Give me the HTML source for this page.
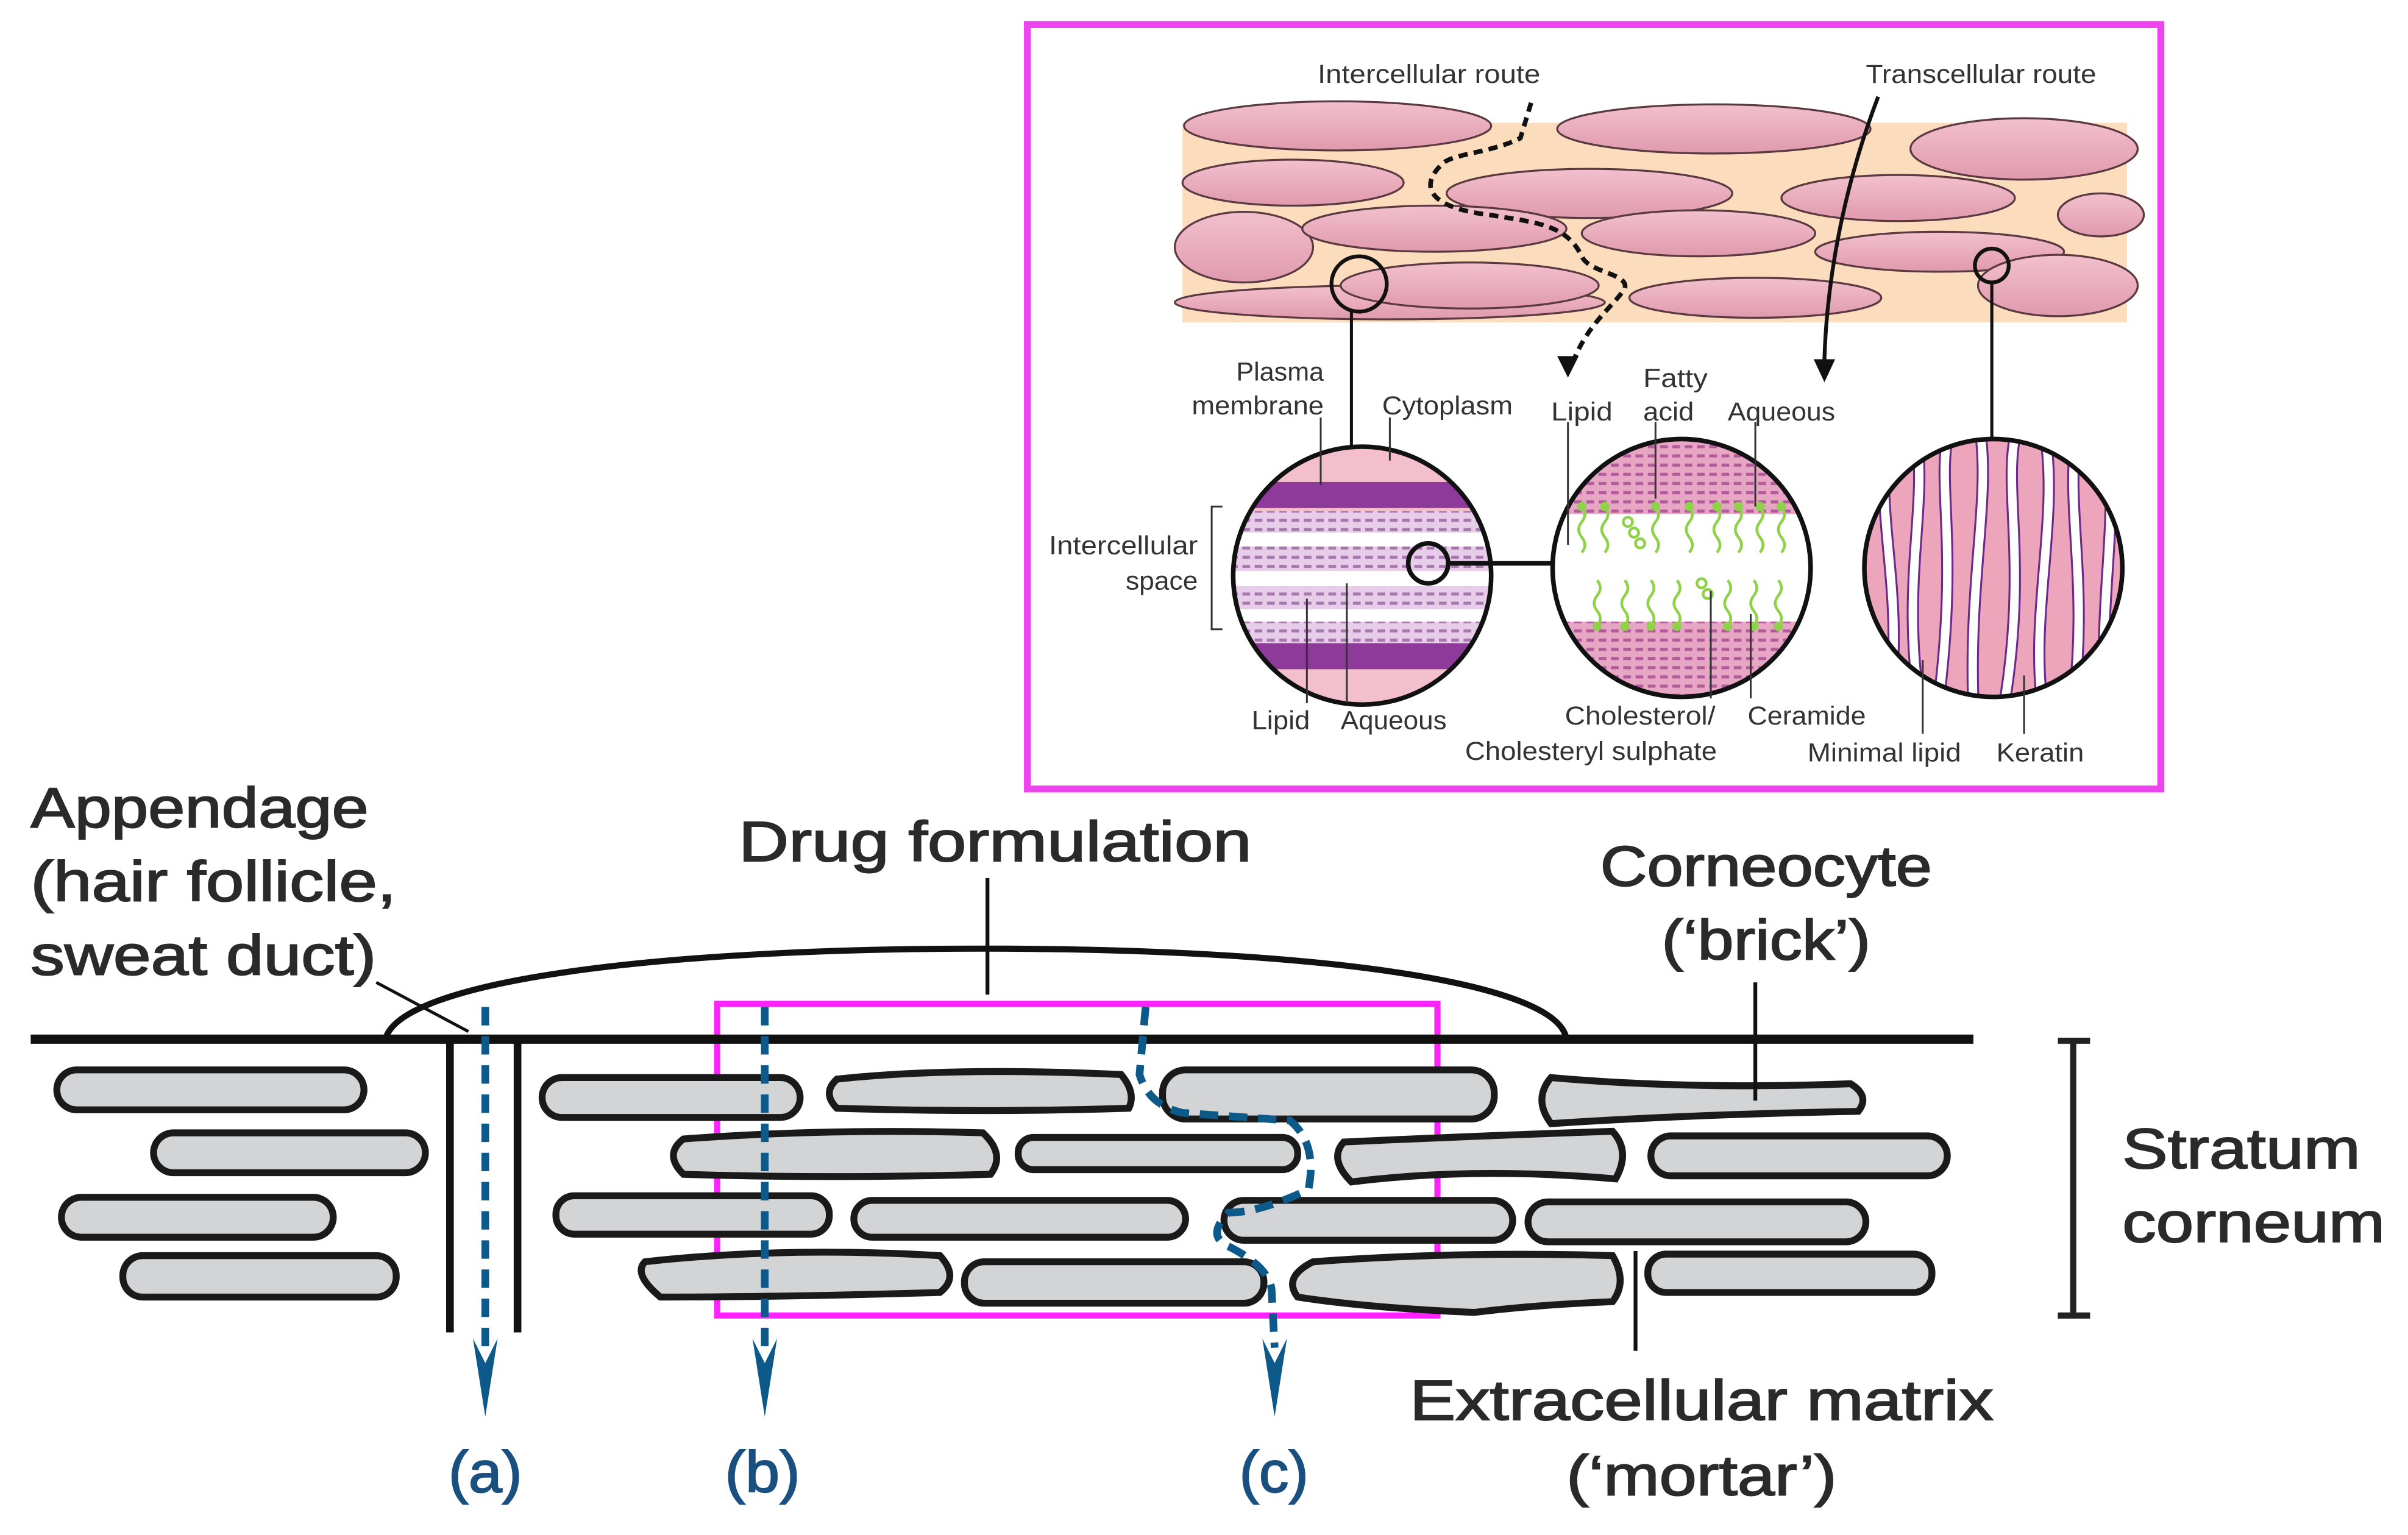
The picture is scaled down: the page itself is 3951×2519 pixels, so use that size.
<!DOCTYPE html>
<html><head><meta charset="utf-8"><style>
html,body{margin:0;padding:0;background:#fff}
svg{display:block}
text{font-family:"Liberation Sans",sans-serif}
.s{font-size:17px;fill:#333}
.b{font-size:37px;fill:#2a2a2a;stroke:#2a2a2a;stroke-width:0.8}
.l{font-size:38px;fill:#1a5080;stroke:#1a5080;stroke-width:0.8}
</style></head><body>
<svg width="3951" height="2519" viewBox="0 0 1568 1000" preserveAspectRatio="none" xmlns="http://www.w3.org/2000/svg">
<defs>
<clipPath id="c1"><circle cx="887" cy="375" r="84"/></clipPath>
<clipPath id="c2"><circle cx="1095" cy="370" r="84"/></clipPath>
<clipPath id="c3"><circle cx="1298" cy="370" r="84"/></clipPath>
<linearGradient id="pk" x1="0" y1="0" x2="0" y2="1"><stop offset="0" stop-color="#f3c0cd"/><stop offset="1" stop-color="#e09aae"/></linearGradient>
<pattern id="dash" width="8" height="6" patternUnits="userSpaceOnUse"><rect width="8" height="6" fill="#e7cdea"/><rect x="1" y="2" width="5" height="2" fill="#a678ad"/></pattern>
<pattern id="dash2" width="8" height="6" patternUnits="userSpaceOnUse"><rect width="8" height="6" fill="#e6a6c4"/><rect x="1" y="2" width="5" height="2" fill="#b25a9a"/></pattern>
</defs>

<rect x="669" y="16" width="738" height="498" fill="#fff" stroke="#ee44ee" stroke-width="4.5"/>
<rect x="770" y="80" width="615" height="130" fill="#fbdcbc"/>
<g fill="url(#pk)" stroke="#5a3a40" stroke-width="1.3">
<ellipse cx="871" cy="82" rx="100" ry="16"/>
<ellipse cx="1116" cy="84" rx="102" ry="16"/>
<ellipse cx="1318" cy="97" rx="74" ry="20"/>
<ellipse cx="842" cy="119" rx="72" ry="15"/>
<ellipse cx="1035" cy="126" rx="93" ry="16"/>
<ellipse cx="1236" cy="129" rx="76" ry="15"/>
<ellipse cx="1368" cy="140" rx="28" ry="14"/>
<ellipse cx="810" cy="161" rx="45" ry="23"/>
<ellipse cx="934" cy="149" rx="86" ry="15"/>
<ellipse cx="1106" cy="152" rx="76" ry="15"/>
<ellipse cx="1263" cy="164" rx="81" ry="13"/>
<ellipse cx="905" cy="197" rx="140" ry="11"/>
<ellipse cx="957" cy="186" rx="84" ry="15"/>
<ellipse cx="1143" cy="194" rx="82" ry="13"/>
<ellipse cx="1340" cy="186" rx="52" ry="20"/>
</g>
<path d="M997,67 L990,90 C970,100 945,100 939,107 C925,120 928,135 970,140 C1000,145 1020,146 1030,167 C1035,178 1061,178 1058,188 C1050,200 1035,210 1025,234" fill="none" stroke="#111" stroke-width="3" stroke-dasharray="6,4"/>
<polygon points="1014,232 1028,232 1021,246" fill="#111"/>
<path d="M1223,63 C1205,110 1190,170 1188,234" fill="none" stroke="#111" stroke-width="2.5"/>
<polygon points="1181,234 1195,234 1188,249" fill="#111"/>
<circle cx="885" cy="185" r="18" fill="none" stroke="#111" stroke-width="2.5"/>
<line x1="880" y1="203" x2="880" y2="291" stroke="#111" stroke-width="2"/>
<circle cx="1297" cy="173" r="11" fill="none" stroke="#111" stroke-width="2.5"/>
<line x1="1297" y1="184" x2="1297" y2="286" stroke="#111" stroke-width="2"/>

<g clip-path="url(#c1)">
<rect x="800" y="285" width="175" height="180" fill="#f3bfcc"/>
<rect x="800" y="314" width="175" height="17" fill="#8e3a9a"/>
<rect x="800" y="333" width="175" height="14" fill="url(#dash)"/>
<rect x="800" y="347" width="175" height="9" fill="#fff"/>
<rect x="800" y="356" width="175" height="16" fill="url(#dash)"/>
<rect x="800" y="372" width="175" height="10" fill="#fff"/>
<rect x="800" y="382" width="175" height="15" fill="url(#dash)"/>
<rect x="800" y="397" width="175" height="8" fill="#fff"/>
<rect x="800" y="405" width="175" height="14" fill="url(#dash)"/>
<rect x="800" y="419" width="175" height="17" fill="#8e3a9a"/>
</g>
<circle cx="887" cy="375" r="84" fill="none" stroke="#111" stroke-width="3"/>
<circle cx="930" cy="367" r="13" fill="none" stroke="#111" stroke-width="3"/>
<line x1="943" y1="367" x2="1011" y2="367" stroke="#111" stroke-width="3"/>

<g clip-path="url(#c2)">
<rect x="1005" y="280" width="180" height="180" fill="#fff"/>
<rect x="1005" y="280" width="180" height="55" fill="url(#dash2)"/>
<rect x="1005" y="405" width="180" height="55" fill="url(#dash2)"/>
<g fill="none" stroke="#8fd24a" stroke-width="1.8">
<path d="M1030,330 q4,5 0,10 q-4,5 0,10 q4,5 0,10"/>
<path d="M1045,330 q4,5 0,10 q-4,5 0,10 q4,5 0,10"/>
<path d="M1078,330 q4,5 0,10 q-4,5 0,10 q4,5 0,10"/>
<path d="M1100,330 q4,5 0,10 q-4,5 0,10 q4,5 0,10"/>
<path d="M1118,330 q4,5 0,10 q-4,5 0,10 q4,5 0,10"/>
<path d="M1132,330 q4,5 0,10 q-4,5 0,10 q4,5 0,10"/>
<path d="M1146,330 q4,5 0,10 q-4,5 0,10 q4,5 0,10"/>
<path d="M1160,330 q4,5 0,10 q-4,5 0,10 q4,5 0,10"/>
<path d="M1040,378 q4,5 0,10 q-4,5 0,10 q4,5 0,10"/>
<path d="M1058,378 q4,5 0,10 q-4,5 0,10 q4,5 0,10"/>
<path d="M1075,378 q4,5 0,10 q-4,5 0,10 q4,5 0,10"/>
<path d="M1092,378 q4,5 0,10 q-4,5 0,10 q4,5 0,10"/>
<path d="M1125,378 q4,5 0,10 q-4,5 0,10 q4,5 0,10"/>
<path d="M1142,378 q4,5 0,10 q-4,5 0,10 q4,5 0,10"/>
<path d="M1158,378 q4,5 0,10 q-4,5 0,10 q4,5 0,10"/>
<circle cx="1060" cy="340" r="3"/><circle cx="1064" cy="347" r="3"/><circle cx="1068" cy="354" r="3"/>
<circle cx="1108" cy="380" r="3"/><circle cx="1112" cy="387" r="3"/>
</g>
<g fill="#8fd24a"><circle cx="1030" cy="330" r="3"/><circle cx="1045" cy="330" r="3"/><circle cx="1078" cy="330" r="3"/><circle cx="1100" cy="330" r="3"/><circle cx="1118" cy="330" r="3"/><circle cx="1132" cy="330" r="3"/><circle cx="1146" cy="330" r="3"/><circle cx="1160" cy="330" r="3"/>
<circle cx="1040" cy="408" r="3"/><circle cx="1058" cy="408" r="3"/><circle cx="1075" cy="408" r="3"/><circle cx="1092" cy="408" r="3"/><circle cx="1125" cy="408" r="3"/><circle cx="1142" cy="408" r="3"/><circle cx="1158" cy="408" r="3"/></g>
</g>
<circle cx="1095" cy="370" r="84" fill="none" stroke="#111" stroke-width="3"/>

<g clip-path="url(#c3)">
<rect x="1210" y="282" width="180" height="180" fill="#eda5bb"/>
<g fill="none" stroke="#6a2a8a" stroke-width="8">
<path d="M1228,290 C1222,340 1240,390 1230,460"/>
<path d="M1248,285 C1255,330 1238,380 1250,460"/>
<path d="M1268,285 C1262,320 1275,360 1262,460"/>
<path d="M1290,285 C1295,330 1282,380 1285,460"/>
<path d="M1312,285 C1305,320 1320,370 1305,460"/>
<path d="M1332,285 C1340,340 1322,400 1330,460"/>
<path d="M1352,285 C1345,330 1360,380 1350,460"/>
<path d="M1372,290 C1380,340 1365,400 1372,460"/>
</g>
<g fill="none" stroke="#fff" stroke-width="5.5">
<path d="M1228,290 C1222,340 1240,390 1230,460"/>
<path d="M1248,285 C1255,330 1238,380 1250,460"/>
<path d="M1268,285 C1262,320 1275,360 1262,460"/>
<path d="M1290,285 C1295,330 1282,380 1285,460"/>
<path d="M1312,285 C1305,320 1320,370 1305,460"/>
<path d="M1332,285 C1340,340 1322,400 1330,460"/>
<path d="M1352,285 C1345,330 1360,380 1350,460"/>
<path d="M1372,290 C1380,340 1365,400 1372,460"/>
</g>
</g>
<circle cx="1298" cy="370" r="84" fill="none" stroke="#111" stroke-width="3"/>

<g stroke="#333" stroke-width="1.2" fill="none">
<line x1="860" y1="272" x2="860" y2="316"/>
<line x1="905" y1="272" x2="905" y2="300"/>
<path d="M796,330 H789 V410 H796"/>
<line x1="851" y1="390" x2="851" y2="458"/>
<line x1="877" y1="380" x2="877" y2="458"/>
<line x1="1021" y1="275" x2="1021" y2="355"/>
<line x1="1078" y1="275" x2="1078" y2="325"/>
<line x1="1143" y1="275" x2="1143" y2="330"/>
<line x1="1114" y1="385" x2="1114" y2="455"/>
<line x1="1140" y1="400" x2="1140" y2="455"/>
<line x1="1252" y1="430" x2="1252" y2="478"/>
<line x1="1318" y1="440" x2="1318" y2="478"/>
</g>
<g class="s">
<text x="858" y="54" textLength="145" lengthAdjust="spacingAndGlyphs">Intercellular route</text>
<text x="1215" y="54" textLength="150" lengthAdjust="spacingAndGlyphs">Transcellular route</text>
<text x="805" y="248" textLength="57" lengthAdjust="spacingAndGlyphs">Plasma</text>
<text x="776" y="270" textLength="86" lengthAdjust="spacingAndGlyphs">membrane</text>
<text x="900" y="270" textLength="85" lengthAdjust="spacingAndGlyphs">Cytoplasm</text>
<text x="1010" y="274" textLength="40" lengthAdjust="spacingAndGlyphs">Lipid</text>
<text x="1070" y="252" textLength="42" lengthAdjust="spacingAndGlyphs">Fatty</text>
<text x="1070" y="274" textLength="33" lengthAdjust="spacingAndGlyphs">acid</text>
<text x="1125" y="274" textLength="70" lengthAdjust="spacingAndGlyphs">Aqueous</text>
<text x="683" y="361" textLength="97" lengthAdjust="spacingAndGlyphs">Intercellular</text>
<text x="733" y="384" textLength="47" lengthAdjust="spacingAndGlyphs">space</text>
<text x="815" y="475" textLength="38" lengthAdjust="spacingAndGlyphs">Lipid</text>
<text x="873" y="475" textLength="69" lengthAdjust="spacingAndGlyphs">Aqueous</text>
<text x="1019" y="472" textLength="98" lengthAdjust="spacingAndGlyphs">Cholesterol/</text>
<text x="954" y="495" textLength="164" lengthAdjust="spacingAndGlyphs">Cholesteryl sulphate</text>
<text x="1138" y="472" textLength="77" lengthAdjust="spacingAndGlyphs">Ceramide</text>
<text x="1177" y="496" textLength="100" lengthAdjust="spacingAndGlyphs">Minimal lipid</text>
<text x="1300" y="496" textLength="57" lengthAdjust="spacingAndGlyphs">Keratin</text>
</g>

<path d="M251,677 C260,640 420,618 640,618 C860,618 1015,640 1020,677" fill="none" stroke="#111" stroke-width="4"/>
<line x1="643" y1="572" x2="643" y2="648" stroke="#111" stroke-width="2.5"/>
<rect x="467" y="654" width="469" height="203" fill="none" stroke="#ff22ff" stroke-width="4"/>

<g fill="#d3d4d6" stroke="#1a1a1a" stroke-width="4.5">
<rect x="37" y="697" width="200" height="26" rx="13"/>
<rect x="353" y="702" width="168" height="26" rx="13"/>
<path d="M545,703 Q620,695 730,700 Q740,712 735,722 Q640,725 545,722 Q535,712 545,703Z"/>
<rect x="757" y="697" width="216" height="32" rx="15"/>
<path d="M1010,702 Q1100,710 1205,706 Q1218,714 1210,724 Q1100,726 1010,732 Q998,716 1010,702Z"/>
<rect x="100" y="738" width="177" height="26" rx="13"/>
<path d="M445,742 Q540,735 640,738 Q655,752 645,765 Q540,768 445,765 Q432,752 445,742Z"/>
<rect x="663" y="741" width="182" height="21" rx="10"/>
<path d="M875,744 Q960,740 1050,737 Q1062,750 1052,768 Q960,760 880,770 Q865,755 875,744Z"/>
<rect x="1075" y="740" width="193" height="26" rx="13"/>
<rect x="40" y="780" width="177" height="26" rx="13"/>
<rect x="362" y="779" width="178" height="25" rx="12"/>
<rect x="556" y="782" width="216" height="24" rx="12"/>
<rect x="797" y="782" width="188" height="26" rx="13"/>
<rect x="995" y="783" width="220" height="26" rx="13"/>
<rect x="80" y="818" width="178" height="27" rx="13"/>
<path d="M420,822 Q510,812 612,818 Q625,832 612,842 Q510,845 430,845 Q412,830 420,822Z"/>
<rect x="628" y="822" width="195" height="27" rx="13"/>
<path d="M855,822 Q950,815 1050,818 Q1060,835 1050,848 Q1000,850 960,855 Q890,852 845,845 Q835,832 855,822Z"/>
<rect x="1073" y="817" width="185" height="25" rx="12"/>
</g>

<line x1="20" y1="677" x2="1285" y2="677" stroke="#111" stroke-width="6"/>
<line x1="293" y1="679" x2="293" y2="868" stroke="#111" stroke-width="5"/>
<line x1="337" y1="679" x2="337" y2="868" stroke="#111" stroke-width="5"/>
<line x1="245" y1="640" x2="305" y2="672" stroke="#111" stroke-width="2"/>

<g fill="none" stroke="#0d5a8a" stroke-width="5" stroke-dasharray="12,7">
<line x1="316" y1="656" x2="316" y2="878"/>
<line x1="498" y1="656" x2="498" y2="878"/>
<path d="M746,656 L742,700 Q748,720 770,725 L840,730 Q858,745 852,775 Q820,790 800,790 Q785,805 800,812 Q826,825 828,840 L830,878"/>
</g>
<g fill="#0d5a8a">
<polygon points="308,872 316,888 324,872 316,923"/>
<polygon points="490,872 498,888 506,872 498,923"/>
<polygon points="822,872 830,888 838,872 830,923"/>
</g>

<line x1="1143" y1="640" x2="1143" y2="717" stroke="#111" stroke-width="2.5"/>
<line x1="1065" y1="815" x2="1065" y2="880" stroke="#111" stroke-width="2.5"/>
<g stroke="#222" stroke-width="4"><line x1="1350" y1="678" x2="1350" y2="857"/><line x1="1340" y1="678" x2="1361" y2="678"/><line x1="1340" y1="857" x2="1361" y2="857"/></g>

<g class="b">
<text x="20" y="539" textLength="220" lengthAdjust="spacingAndGlyphs">Appendage</text>
<text x="20" y="587" textLength="238" lengthAdjust="spacingAndGlyphs">(hair follicle,</text>
<text x="20" y="635" textLength="225" lengthAdjust="spacingAndGlyphs">sweat duct)</text>
<text x="481" y="561" textLength="334" lengthAdjust="spacingAndGlyphs">Drug formulation</text>
<text x="1042" y="577" textLength="216" lengthAdjust="spacingAndGlyphs">Corneocyte</text>
<text x="1082" y="625" textLength="136" lengthAdjust="spacingAndGlyphs">(‘brick’)</text>
<text x="1382" y="761" textLength="155" lengthAdjust="spacingAndGlyphs">Stratum</text>
<text x="1382" y="809" textLength="171" lengthAdjust="spacingAndGlyphs">corneum</text>
<text x="918" y="925" textLength="380" lengthAdjust="spacingAndGlyphs">Extracellular matrix</text>
<text x="1020" y="974" textLength="176" lengthAdjust="spacingAndGlyphs">(‘mortar’)</text>
</g>
<g class="l">
<text x="292" y="972" textLength="48" lengthAdjust="spacingAndGlyphs">(a)</text>
<text x="472" y="972" textLength="49" lengthAdjust="spacingAndGlyphs">(b)</text>
<text x="807" y="972" textLength="45" lengthAdjust="spacingAndGlyphs">(c)</text>
</g>
</svg>
</body></html>
